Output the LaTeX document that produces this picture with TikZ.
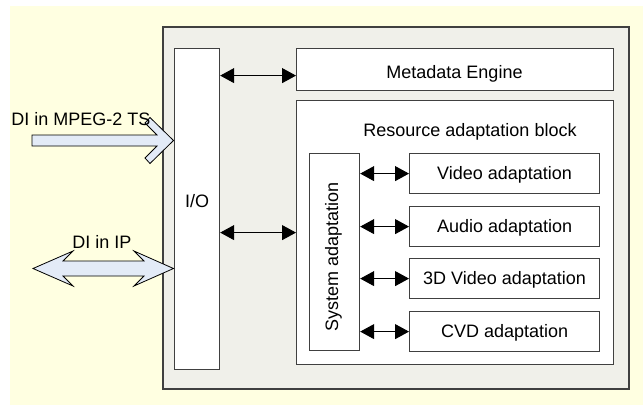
\documentclass[tikz,border=0pt]{standalone}
\usepackage{fontspec}
\setmainfont{Liberation Sans}
\usetikzlibrary{arrows.meta}
\definecolor{bgyellow}{HTML}{FFFFE1}
\definecolor{boxgray}{HTML}{F0F0EA}
\definecolor{edgegray}{HTML}{404040}
\definecolor{arrowblue}{HTML}{E3EBF7}
\tikzset{
  box/.style={draw=edgegray, line width=1.2pt, fill=white, inner sep=0pt, anchor=north west},
  lbl/.style={inner sep=0pt, anchor=base, font=\fontsize{18}{20}\selectfont},
  biarrow/.style={line width=1pt, {Triangle[length=14pt,width=15pt]}-{Triangle[length=14pt,width=15pt]}},
  blockarrow/.style={draw=black, line width=0.8pt, fill=arrowblue, line join=miter}
}
\begin{document}
\begin{tikzpicture}[x=1pt,y=-1pt]
\useasboundingbox (0,0) rectangle (643,405);
\fill[bgyellow] (10,6) rectangle (643,405);
% outer block
\node[box, fill=boxgray, line width=1.6pt, minimum width=466pt, minimum height=362pt] (outer) at (162,26) {};
% I/O
\node[box, minimum width=45pt, minimum height=321pt] (io) at (174,48) {};
\node[lbl] (iot) at (197,207) {I/O};
% Metadata engine
\node[box, minimum width=317pt, minimum height=42pt] (meta) at (296,48) {};
\node[lbl] (metat) at (454.5,78.3) {Metadata Engine};
% Resource adaptation block
\node[box, minimum width=317pt, minimum height=264pt] (rab) at (296,100) {};
\node[lbl] (rabt) at (470,136) {Resource adaptation block};
% System adaptation
\node[box, minimum width=50pt, minimum height=197pt] (sys) at (309,153) {};
\node[lbl, rotate=90] (syst) at (338,257) {System adaptation};
% adaptation boxes
\node[box, minimum width=190pt, minimum height=40pt] (video) at (409,153) {};
\node[box, minimum width=190pt, minimum height=40pt] (audio) at (409,206) {};
\node[box, minimum width=190pt, minimum height=40pt] (threed) at (409,258) {};
\node[box, minimum width=190pt, minimum height=40pt] (cvd) at (409,311) {};
\node[lbl] (videot) at ([yshift=-6.3pt]video.center) {Video adaptation};
\node[lbl] (audiot) at ([yshift=-6.3pt]audio.center) {Audio adaptation};
\node[lbl] (threedt) at ([yshift=-6.3pt]threed.center) {3D Video adaptation};
\node[lbl] (cvdt) at ([yshift=-6.3pt]cvd.center) {CVD adaptation};
% connectors
\coordinate (mA) at ([yshift=-6pt]meta.west);
\draw[biarrow] (io.east |- mA) -- (mA);
\draw[biarrow] (io.east |- rab.west) -- (rab.west);
\draw[biarrow] (sys.east |- video.west) -- (video.west);
\draw[biarrow] (sys.east |- audio.west) -- (audio.west);
\draw[biarrow] (sys.east |- threed.west) -- (threed.west);
\draw[biarrow] (sys.east |- cvd.west) -- (cvd.west);
% block arrows
\draw[blockarrow] (32,135) -- (157,135) -- (145,123) -- (150,117.5) -- (173.5,140.5) -- (150,163.5) -- (145,158) -- (157,146) -- (32,146) -- cycle;
\draw[blockarrow] (33,268.5) -- (73,251) -- (63,261) -- (144,261) -- (134,251) -- (173.5,268.5) -- (134,286) -- (144,276) -- (63,276) -- (73,286) -- cycle;
\node[lbl] (mpegt) at (81,125) {DI in MPEG-2 TS};
\node[lbl] (ipt) at (102,248) {DI in IP};
\end{tikzpicture}
\end{document}
